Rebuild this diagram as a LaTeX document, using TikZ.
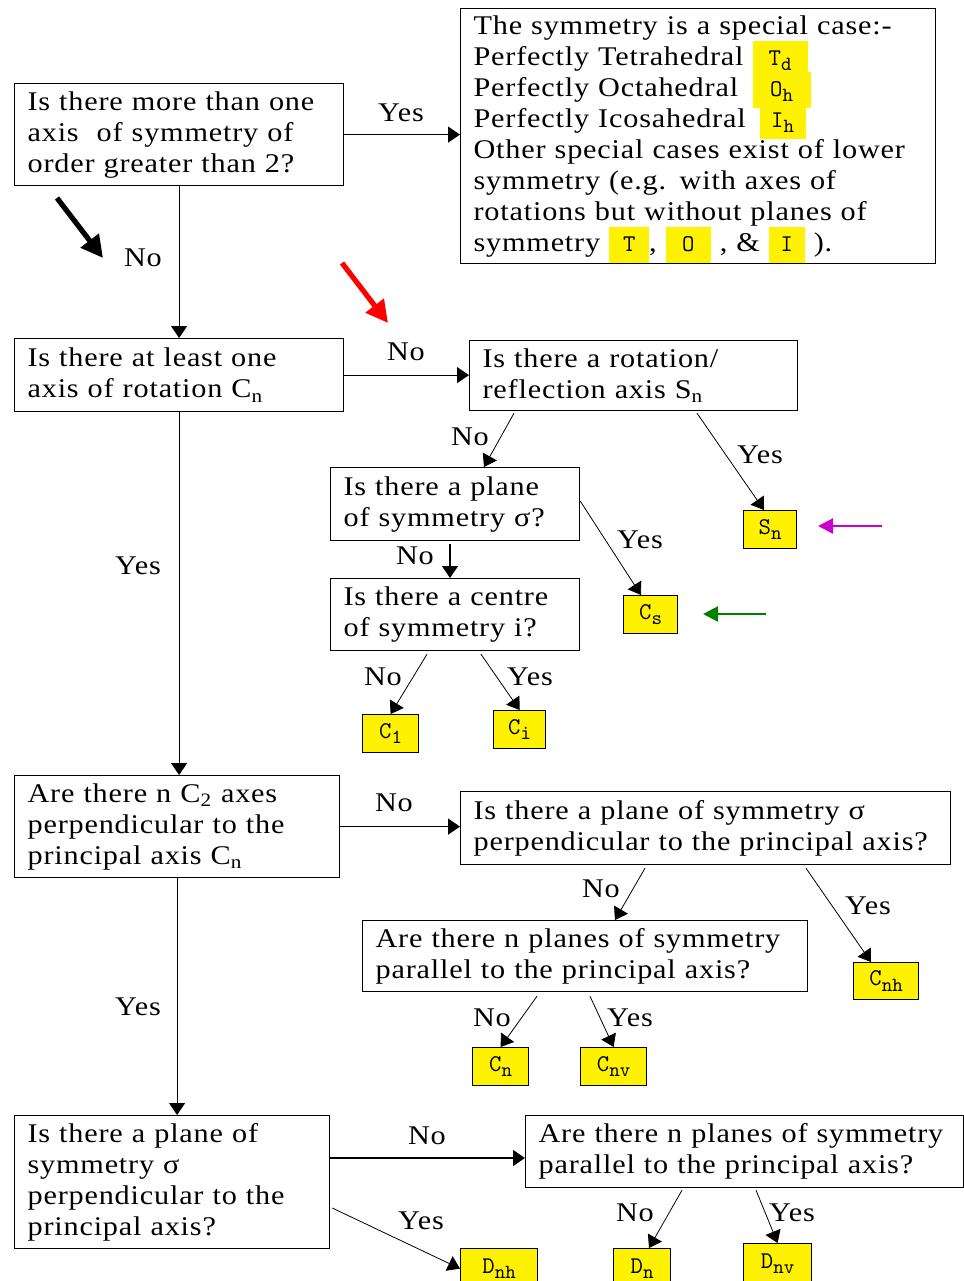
\documentclass[tikz,border=0pt]{standalone}
\usepackage{fontspec}
\setmainfont[FakeStretch=1.12,LetterSpace=3]{Liberation Serif}
\usepackage{xcolor}
\usepackage{tikz}
\usetikzlibrary{positioning,arrows.meta,calc}

\definecolor{pinkarrow}{RGB}{204,0,204}
\definecolor{greenarrow}{RGB}{0,128,0}

\newcommand{\symfont}{\ttfamily\fontsize{12}{13}\selectfont}
\newcommand{\lowsub}[1]{\raisebox{-2.8pt}{\fontsize{10}{10}\selectfont #1}}
\newcommand{\hlsym}[2][21pt]{\smash{\colorbox{yellow}{\makebox[#1]{\rule[-3pt]{0pt}{12pt}\symfont #2}}}}

\begin{document}
\begin{tikzpicture}[x=0.5pt,y=-0.5pt,font=\fontsize{13.5}{15.5}\selectfont,>={Triangle[length=6pt,width=8pt]}]

  \tikzstyle{question}=[draw,line width=0.6pt,anchor=north west,align=left,inner xsep=6.5pt,inner ysep=0pt]
  \tikzstyle{group}=[draw,line width=0.6pt,fill=yellow,anchor=north west,inner sep=0pt,minimum height=19pt,font=\symfont]
  \tikzstyle{answer}=[inner sep=1pt]
  \tikzstyle{flow}=[->,line width=0.6pt]
  \tikzstyle{side}=[->,line width=0.4pt]
  \tikzstyle{pointer}=[-{Triangle[length=11pt,width=11pt]},line width=2.6pt]
  \tikzstyle{hint}=[-{Triangle[length=7.5pt,width=7.5pt]},line width=1.1pt]

  \useasboundingbox (0,0) rectangle (964,1281);

  % questions
  \node[question,text width=151.5pt,minimum height=51pt] (more) at (14,83)
    {Is there more than one\\ axis\ \ of symmetry of\\ order greater than 2?};
  \node[question,text width=224.5pt,minimum height=127.5pt] (special) at (460,8)
    {The symmetry is a special case:-\\
     \makebox[139.5pt][l]{Perfectly Tetrahedral}\hlsym[21.5pt]{T\lowsub{d}}\\
     \makebox[139.5pt][l]{Perfectly Octahedral}\hlsym[23pt]{O\lowsub{h}}\\
     \makebox[143pt][l]{Perfectly Icosahedral}\hlsym[17pt]{I\lowsub{h}}\\
     Other special cases exist of lower\\
     symmetry (e.g. with axes of\\
     rotations but without planes of\\
     symmetry \hlsym[14pt]{T}, \hlsym[16.5pt]{O} , \& \hlsym[12pt]{I} ).};
  \node[question,text width=151.5pt,minimum height=36.5pt] (rot) at (14,338)
    {Is there at least one\\ axis of rotation C\textsubscript{n}};
  \node[question,text width=151pt,minimum height=35pt] (refl) at (469,340)
    {Is there a rotation/\\ reflection axis S\textsubscript{n}};
  \node[question,text width=111.5pt,minimum height=36.5pt] (plane) at (330,467)
    {Is there a plane\\ of symmetry σ?};
  \node[question,text width=111.5pt,minimum height=36pt] (centre) at (330,578)
    {Is there a centre\\ of symmetry i?};
  \node[question,text width=149.5pt,minimum height=51pt] (ctwo) at (14,775)
    {Are there n C\textsubscript{2} axes\\ perpendicular to the\\ principal axis C\textsubscript{n}};
  \node[question,text width=232pt,minimum height=36.5pt] (cperp) at (460,791)
    {Is there a plane of symmetry σ\\ perpendicular to the principal axis?};
  \node[question,text width=209.5pt,minimum height=35.5pt] (cpar) at (362,920)
    {Are there n planes of symmetry\\ parallel to the principal axis?};
  \node[question,text width=144.5pt,minimum height=66.5pt] (dperp) at (14,1115)
    {Is there a plane of\\ symmetry σ\\ perpendicular to the\\ principal axis?};
  \node[question,text width=206pt,minimum height=36pt] (dpar) at (525,1115)
    {Are there n planes of symmetry\\ parallel to the principal axis?};

  % point groups
  \node[group,minimum width=26.5pt] (Sn) at (743,510) {S\lowsub{n}};
  \node[group,minimum width=27pt] (Cs) at (623,595) {C\lowsub{s}};
  \node[group,minimum width=28pt] (C1) at (362,714) {C\lowsub{1}};
  \node[group,minimum width=26pt] (Ci) at (493,710) {C\lowsub{i}};
  \node[group,minimum width=28pt] (Cn) at (472,1047) {C\lowsub{n}};
  \node[group,minimum width=33pt] (Cnv) at (580,1047) {C\lowsub{nv}};
  \node[group,minimum width=32.5pt,minimum height=18.5pt] (Cnh) at (853,962) {C\lowsub{nh}};
  \node[group,minimum width=38.5pt,minimum height=20pt] (Dnh) at (460,1248) {D\lowsub{nh}};
  \node[group,minimum width=28.5pt,minimum height=20pt] (Dn) at (613,1248) {D\lowsub{n}};
  \node[group,minimum width=34pt,minimum height=20pt] (Dnv) at (743,1243) {D\lowsub{nv}};

  % yes / no
  \node[answer] (yesSpecial) at (401,113) {Yes};
  \node[answer] (noRot) at (143,258) {No};
  \node[answer] (noRefl) at (406,352) {No};
  \node[answer] (noPlane) at (470,437) {No};
  \node[answer] (yesSn) at (760,455) {Yes};
  \node[answer] (yesCs) at (640,540) {Yes};
  \node[answer] (noCentre) at (415,556) {No};
  \node[answer] (noCone) at (383,677) {No};
  \node[answer] (yesCi) at (530,677) {Yes};
  \node[answer] (yesCtwo) at (138,566) {Yes};
  \node[answer] (noCperp) at (394,803) {No};
  \node[answer] (noCpar) at (601,889) {No};
  \node[answer] (yesCnh) at (868,906) {Yes};
  \node[answer] (noCn) at (492,1018) {No};
  \node[answer] (yesCnv) at (630,1018) {Yes};
  \node[answer] (yesDperp) at (138,1007) {Yes};
  \node[answer] (noDpar) at (427,1136) {No};
  \node[answer] (yesDnh) at (421,1221) {Yes};
  \node[answer] (noDn) at (635,1213) {No};
  \node[answer] (yesDnv) at (792,1213) {Yes};

  % connectors
  \draw[flow] (more.east) -- (more.east -| special.west);
  \draw[flow] (more.south) -- (rot.north);
  \draw[flow] (rot.east) -- (rot.east -| refl.west);
  \draw[side] ($(refl.south west)+(45,2)$) -- ($(plane.north west)+(154,0)$);
  \draw[side] ($(refl.south west)+(228,2)$) -- ($(Sn.north west)+(21,0)$);
  \draw[side] ($(plane.north east)+(0,34)$) -- ($(Cs.north west)+(18,0)$);
  \draw[flow] ($(plane.south west)+(120,3)$) -- ($(centre.north west)+(120,0)$);
  \draw[side] ($(centre.south west)+(97,3)$) -- (C1.north);
  \draw[side] ($(centre.south west)+(151,3)$) -- (Ci.north);
  \draw[flow] (rot.south) -- (rot.south |- ctwo.north);
  \draw[flow] (ctwo.east) -- (ctwo.east -| cperp.west);
  \draw[side] ($(cperp.south west)+(185,3)$) -- ($(cpar.north west)+(253,0)$);
  \draw[side] ($(cperp.south west)+(346,3)$) -- ($(Cnh.north west)+(18,0)$);
  \draw[side] ($(cpar.south west)+(175,4)$) -- (Cn.north);
  \draw[side] ($(cpar.south west)+(228,4)$) -- (Cnv.north);
  \draw[flow] (ctwo.south) -- (ctwo.south |- dperp.north);
  \draw[flow] ($(dperp.north east)+(0,43)$) -- ($(dpar.north west)+(0,43)$);
  \draw[side] ($(dperp.north east)+(2,93)$) -- (Dnh.west);
  \draw[side] ($(dpar.south west)+(157,2)$) -- ($(Dn.north west)+(36,0)$);
  \draw[side] ($(dpar.south west)+(231,2)$) -- (Dnv.north);

  % pointers
  \coordinate (blackTail) at (57,198);
  \coordinate (blackTip) at (103,258);
  \coordinate (redTail) at (342,263);
  \coordinate (redTip) at (388,323);
  \coordinate (pinkTail) at (882,526);
  \coordinate (pinkTip) at (818,526);
  \coordinate (greenTail) at (766,614);
  \coordinate (greenTip) at (703,614);
  \draw[pointer] (blackTail) -- (blackTip);
  \draw[pointer,red] (redTail) -- (redTip);
  \draw[hint,pinkarrow] (pinkTail) -- (pinkTip);
  \draw[hint,greenarrow] (greenTail) -- (greenTip);

\end{tikzpicture}
\end{document}
